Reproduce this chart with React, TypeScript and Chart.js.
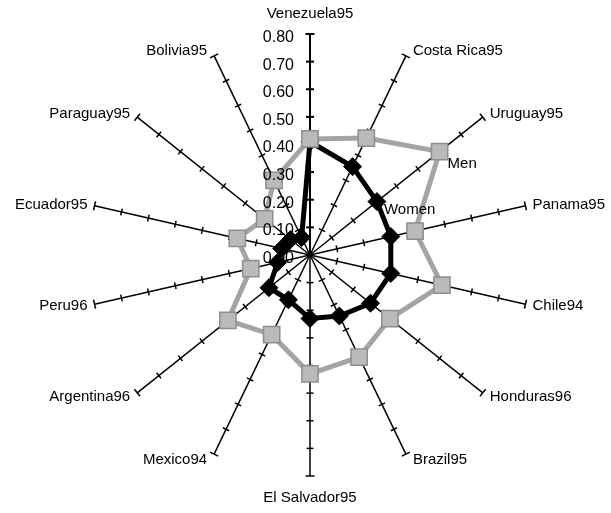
import React, { useEffect, useRef } from 'react';
import { Chart, registerables } from 'chart.js';

Chart.register(...registerables);

const categories = [
  'Venezuela95', 'Costa Rica95', 'Uruguay95', 'Panama95', 'Chile94', 'Honduras96', 'Brazil95',
  'El Salvador95', 'Mexico94', 'Argentina96', 'Peru96', 'Ecuador95', 'Paraguay95', 'Bolivia95',
];
const menValues = [0.42, 0.47, 0.60, 0.39, 0.49, 0.37, 0.41, 0.43, 0.32, 0.38, 0.22, 0.27, 0.21, 0.30];
const womenValues = [0.41, 0.355, 0.31, 0.30, 0.30, 0.28, 0.245, 0.23, 0.18, 0.19, 0.12, 0.105, 0.09, 0.07];
const tickValues = [0, 0.1, 0.2, 0.3, 0.4, 0.5, 0.6, 0.7, 0.8];
const tickLabels = ['0.00', '0.10', '0.20', '0.30', '0.40', '0.50', '0.60', '0.70', '0.80'];
const seriesNames = ['Men', 'Women'];

const FONT = '"Liberation Sans", Arial, sans-serif';

const decorPlugin = {
  id: 'decor',
  beforeDatasetsDraw(chart: any) {
    const ctx = chart.ctx;
    const scale = chart.scales.r;
    ctx.save();
    ctx.strokeStyle = '#000';
    categories.forEach((_, i) => {
      const ang = scale.getIndexAngle(i);
      const px = Math.cos(ang);
      const py = Math.sin(ang);
      ctx.lineWidth = i === 0 ? 2 : 1.5;
      tickValues.forEach((v) => {
        if (v === 0) return;
        const p = scale.getPointPositionForValue(i, v);
        const half = v === 0.8 ? 4.5 : i === 0 ? 4 : 3.5;
        ctx.beginPath();
        ctx.moveTo(p.x - px * half, p.y - py * half);
        ctx.lineTo(p.x + px * half, p.y + py * half);
        ctx.stroke();
      });
    });
    ctx.restore();
  },
  afterDatasetsDraw(chart: any) {
    const ctx = chart.ctx;
    const scale = chart.scales.r;
    ctx.save();
    ctx.fillStyle = '#000';
    // radial tick labels
    ctx.font = `16px ${FONT}`;
    ctx.textAlign = 'right';
    ctx.textBaseline = 'middle';
    tickValues.forEach((v, k) => {
      const y = scale.yCenter - scale.getDistanceFromCenterForValue(v);
      ctx.fillText(tickLabels[k], scale.xCenter - 16, y + 3.5);
    });
    // category labels
    ctx.font = `15px ${FONT}`;
    categories.forEach((lab, i) => {
      const ang = scale.getIndexAngle(i);
      const s = Math.sin(ang);
      const c = Math.cos(ang);
      const p = scale.getPointPositionForValue(i, 0.8);
      if (Math.abs(s) < 0.01) {
        ctx.textAlign = 'center';
        ctx.fillText(lab, p.x, p.y + (c > 0 ? -20 : 22));
      } else {
        ctx.textAlign = s > 0 ? 'left' : 'right';
        ctx.fillText(lab, p.x + (s > 0 ? 7 : -7), p.y - c * 6);
      }
    });
    // series name annotations next to the Uruguay points
    ctx.textAlign = 'left';
    const menPt = chart.getDatasetMeta(0).data[2];
    const womenPt = chart.getDatasetMeta(1).data[2];
    ctx.fillText(seriesNames[0], menPt.x + 8, menPt.y + 12);
    ctx.fillText(seriesNames[1], womenPt.x + 7, womenPt.y + 8);
    ctx.restore();
  },
};

export default function App() {
  const ref = useRef<HTMLCanvasElement | null>(null);

  useEffect(() => {
    document.body.style.margin = '0';
    document.body.style.background = '#fff';
    const canvas = ref.current;
    if (!canvas) return;
    const chart = new Chart(canvas, {
      type: 'radar',
      data: {
        labels: categories,
        datasets: [
          {
            label: seriesNames[0],
            data: menValues,
            borderColor: '#a4a4a4',
            borderWidth: 5,
            fill: false,
            pointStyle: 'rect',
            pointRadius: 11.5,
            pointBackgroundColor: '#bababa',
            pointBorderColor: '#8e8e8e',
            pointBorderWidth: 1.5,
          },
          {
            label: seriesNames[1],
            data: womenValues,
            borderColor: '#000',
            borderWidth: 5,
            fill: false,
            pointStyle: 'rectRot',
            pointRadius: 9,
            pointBackgroundColor: '#000',
            pointBorderColor: '#000',
            pointBorderWidth: 1,
          },
        ],
      },
      options: {
        responsive: false,
        animation: false,
        devicePixelRatio: 1,
        layout: { padding: 0 },
        elements: { line: { tension: 0 } },
        plugins: {
          legend: { display: false },
          tooltip: { enabled: false },
        },
        scales: {
          r: {
            min: 0,
            max: 0.8,
            startAngle: 0,
            ticks: { display: false, stepSize: 0.1 },
            grid: { display: false },
            angleLines: {
              display: true,
              color: '#000',
              lineWidth: (c: any) => (c.index === 0 ? 2 : 1.5),
            },
            pointLabels: { display: false },
            afterFit: (scale: any) => {
              scale.xCenter = 310;
              scale.yCenter = 255;
              scale.drawingArea = 221;
            },
          },
        },
      },
      plugins: [decorPlugin],
    } as any);
    return () => chart.destroy();
  }, []);

  return <canvas ref={ref} width={611} height={513} style={{ display: 'block' }} />;
}
